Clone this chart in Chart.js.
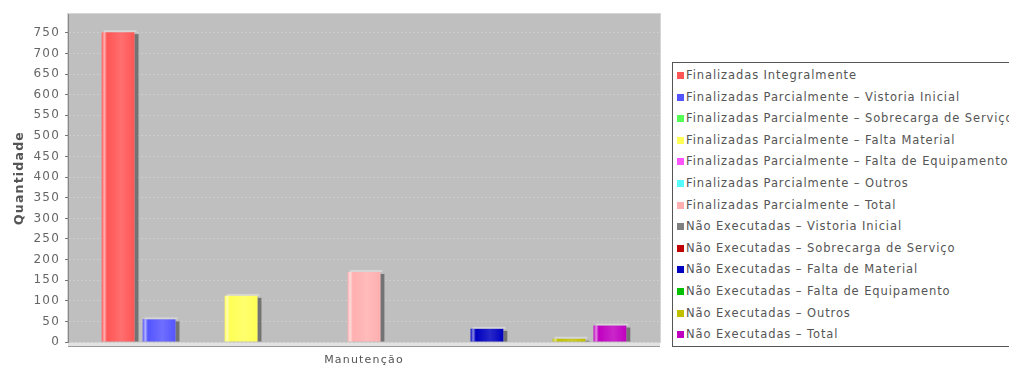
<!DOCTYPE html>
<html>
<head>
<meta charset="utf-8">
<script src="https://cdn.jsdelivr.net/npm/chart.js@4/dist/chart.umd.min.js"></script>
<style>
  html, body { margin: 0; padding: 0; background: #fff; overflow: hidden; }
  #wrap { position: relative; width: 1009px; height: 367px; overflow: hidden; }
  #c { position: absolute; left: 0; top: 0; }
  #legend {
    position: absolute; left: 672px; top: 62px; width: 345px; height: 285px;
    border: 1px solid #555; box-sizing: border-box; padding-top: 2px;
    font-family: "DejaVu Sans", sans-serif; font-size: 11.5px; letter-spacing: 0.9px; color: #555;
    white-space: nowrap; background: #fff;
  }
  .item { height: 21.6px; line-height: 21.6px; position: relative; padding-left: 13px; }
  .sw { position: absolute; left: 4px; top: 7px; width: 7px; height: 7px; }
</style>
</head>
<body>
<div id="wrap">
  <canvas id="c" width="1009" height="367"></canvas>
  <div id="legend"></div>
</div>
<script>
// Category and series
const categories = ['Manutenção'];
const seriesNames = [
  'Finalizadas Integralmente',
  'Finalizadas Parcialmente – Vistoria Inicial',
  'Finalizadas Parcialmente – Sobrecarga de Serviço',
  'Finalizadas Parcialmente – Falta Material',
  'Finalizadas Parcialmente – Falta de Equipamento',
  'Finalizadas Parcialmente – Outros',
  'Finalizadas Parcialmente – Total',
  'Não Executadas – Vistoria Inicial',
  'Não Executadas – Sobrecarga de Serviço',
  'Não Executadas – Falta de Material',
  'Não Executadas – Falta de Equipamento',
  'Não Executadas – Outros',
  'Não Executadas – Total'
];
const seriesValues = [752, 55, 0, 112, 0, 0, 170, 0, 0, 32, 0, 8, 40];
const seriesColors = [
  '#ff5555', '#5555ff', '#55ff55', '#ffff55', '#ff55ff', '#55ffff', '#ffafaf',
  '#808080', '#c00000', '#0000c0', '#00c000', '#c0c000', '#c000c0'
];
const yTicks = [0, 50, 100, 150, 200, 250, 300, 350, 400, 450, 500, 550, 600, 650, 700, 750];

// Wider letter spacing for all canvas text
const spacedText = {
  id: 'spacedText',
  beforeDraw(chart) { chart.ctx.letterSpacing = '1.2px'; },
  afterDraw(chart) { chart.ctx.letterSpacing = '0px'; }
};

// Plot background, floor strip and border
const plotBackground = {
  id: 'plotBackground',
  beforeDraw(chart) {
    const { ctx, chartArea: a } = chart;
    ctx.save();
    ctx.fillStyle = '#bfbfbf';
    ctx.fillRect(a.left, a.top, a.right - a.left, a.bottom - a.top);
    ctx.fillStyle = '#e2e2e2';
    ctx.fillRect(a.left, a.bottom, a.right - a.left, 4);
    ctx.strokeStyle = '#d6d6d6';
    ctx.lineWidth = 1;
    ctx.strokeRect(a.left - 0.5, a.top - 0.5, a.right - a.left + 1, a.bottom - a.top + 1);
    ctx.strokeStyle = '#9a9a9a';
    ctx.beginPath();
    ctx.moveTo(a.left, a.bottom + 4.5); ctx.lineTo(a.right, a.bottom + 4.5);
    ctx.stroke();
    ctx.restore();
  }
};

// Side faces and highlights give the bars a raised look
const bar3d = {
  id: 'bar3d',
  beforeDatasetsDraw(chart) {
    const ctx = chart.ctx;
    ctx.save();
    chart.data.datasets.forEach((ds, i) => {
      const meta = chart.getDatasetMeta(i);
      meta.data.forEach((el, j) => {
        if (!ds.data[j]) return;
        const p = el.getProps(['x', 'y', 'base', 'width'], true);
        const right = p.x + p.width / 2;
        ctx.fillStyle = 'rgba(90,90,90,0.75)';
        ctx.fillRect(right, p.y + 2, 4, p.base - p.y - 2);
      });
    });
    ctx.restore();
  },
  afterDatasetsDraw(chart) {
    const ctx = chart.ctx;
    ctx.save();
    chart.data.datasets.forEach((ds, i) => {
      const meta = chart.getDatasetMeta(i);
      meta.data.forEach((el, j) => {
        if (!ds.data[j]) return;
        const p = el.getProps(['x', 'y', 'base', 'width'], true);
        const left = p.x - p.width / 2;
        const g = ctx.createLinearGradient(left, 0, left + p.width, 0);
        g.addColorStop(0, 'rgba(255,255,255,0.0)');
        g.addColorStop(0.08, 'rgba(255,255,255,0.55)');
        g.addColorStop(0.16, 'rgba(255,255,255,0.0)');
        g.addColorStop(0.6, 'rgba(255,255,255,0.15)');
        g.addColorStop(1, 'rgba(255,255,255,0.0)');
        ctx.fillStyle = g;
        ctx.fillRect(left, p.y, p.width, p.base - p.y);
        ctx.fillStyle = 'rgba(255,255,255,0.35)';
        ctx.fillRect(left + 2, p.y - 2, p.width, 2);
      });
    });
    ctx.restore();
  }
};

const datasets = seriesNames.map((name, i) => ({
  label: name,
  data: [seriesValues[i]],
  backgroundColor: seriesColors[i],
  borderWidth: 0
}));

new Chart(document.getElementById('c'), {
  type: 'bar',
  data: { labels: categories, datasets },
  options: {
    responsive: false,
    animation: false,
    layout: { padding: { top: 14, right: 349, left: 12, bottom: 0 } },
    datasets: { bar: { categoryPercentage: 0.9, barPercentage: 0.8 } },
    plugins: { legend: { display: false }, tooltip: { enabled: false } },
    scales: {
      x: {
        grid: { display: false, drawTicks: false },
        border: { display: false },
        ticks: { display: false },
        title: {
          display: true, text: 'Manutenção', color: '#555',
          font: { family: 'DejaVu Sans', size: 11 }, padding: { top: 3, bottom: 0 }
        },
        afterFit(s) { s.height = 25; }
      },
      y: {
        min: 0, max: 796,
        afterBuildTicks(s) { s.ticks = yTicks.map(v => ({ value: v })); },
        ticks: { color: '#666', font: { family: 'DejaVu Sans', size: 12 }, padding: 5 },
        grid: { color: '#cdcdcd', drawTicks: true, tickLength: 3, tickColor: '#777' },
        border: { display: true, color: '#888', dash: [2, 2] },
        title: {
          display: true, text: 'Quantidade', color: '#555',
          font: { family: 'DejaVu Sans', size: 12.5, weight: 'bold' }, padding: { top: 0, bottom: 4 }
        },
        afterFit(s) { s.width = 56; }
      }
    }
  },
  plugins: [spacedText, plotBackground, bar3d]
});

// Legend box
const legend = document.getElementById('legend');
seriesNames.forEach((name, i) => {
  const item = document.createElement('div');
  item.className = 'item';
  const sw = document.createElement('span');
  sw.className = 'sw';
  sw.style.background = seriesColors[i];
  item.appendChild(sw);
  item.appendChild(document.createTextNode(name));
  legend.appendChild(item);
});
</script>
</body>
</html>
